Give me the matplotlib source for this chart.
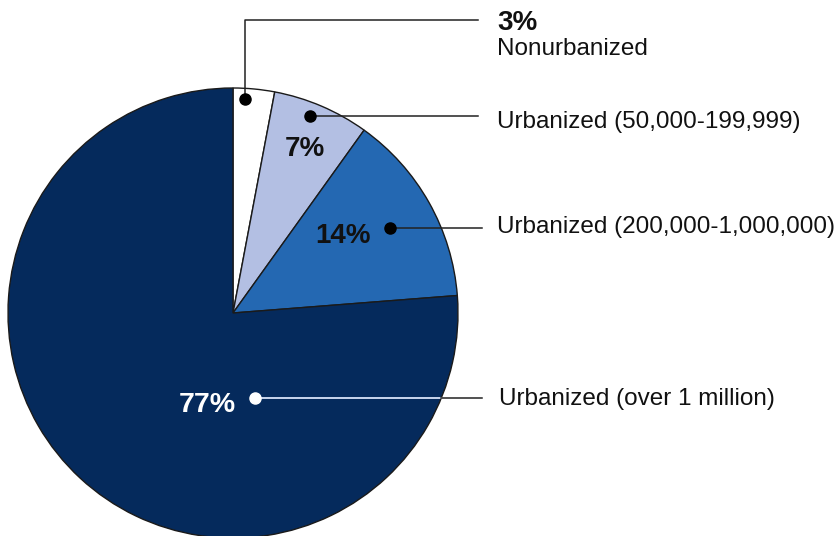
import numpy as np
import matplotlib.pyplot as plt

plt.rcParams['font.family'] = ['Liberation Sans', 'DejaVu Sans']

# share of the total, by area type
categories = ['Nonurbanized', 'Urbanized (50,000-199,999)',
              'Urbanized (200,000-1,000,000)', 'Urbanized (over 1 million)']
shares = [3, 7, 14, 77]
pct_labels = ['3%', '7%', '14%', '77%']
colors = ['#ffffff', '#b3bfe3', '#2468b2', '#052a5c']

# canvas in pixel units, y runs downwards
W, H = 835, 536
cx, cy, R = 233, 313, 225

fig = plt.figure(figsize=(W / 100, H / 100), dpi=100)
ax = fig.add_axes([0, 0, 1, 1])

ax.pie(shares, colors=colors, startangle=-90, counterclock=True,
       center=(cx, cy), radius=R,
       wedgeprops=dict(edgecolor='#1a1a1a', linewidth=1.0))
ax.set_xlim(0, W)
ax.set_ylim(H, 0)
ax.set_aspect('equal')
ax.axis('off')

lc = '#222222'
lw = 1.1
label_x = 497
line_end = 480

# 3% - nonurbanized: elbow leader up and to the right
ax.plot([245, 245, line_end - 2], [99, 20, 20], color=lc, lw=lw, zorder=3)
ax.plot(245, 99, 'o', color='black', ms=8, zorder=4)
ax.text(label_x, 30, pct_labels[0], fontsize=20, fontweight='bold', color='#111111')
ax.text(label_x, 55, categories[0], fontsize=17.5, color='#111111')

# 7%
ax.plot([310, line_end - 2], [116, 116], color=lc, lw=lw, zorder=3)
ax.plot(310, 116, 'o', color='black', ms=8, zorder=4)
ax.text(305, 156, pct_labels[1], fontsize=20, fontweight='bold', ha='center', color='#111111')
ax.text(label_x, 128, categories[1], fontsize=17.5, color='#111111')

# 14%
ax.plot([390, line_end + 2], [228, 228], color=lc, lw=lw, zorder=3)
ax.plot(390, 228, 'o', color='black', ms=8, zorder=4)
ax.text(343, 243, pct_labels[2], fontsize=20, fontweight='bold', ha='center', color='#111111')
ax.text(label_x, 233, categories[2], fontsize=17.5, color='#111111')

# 77%: light line inside the dark slice, dark outside
y77 = 398
edge_x = cx + np.sqrt(R ** 2 - (y77 - cy) ** 2)
ax.plot([255, edge_x], [y77, y77], color='#c9d6ef', lw=lw + 0.3, zorder=3)
ax.plot([edge_x, line_end + 2], [y77, y77], color=lc, lw=lw, zorder=3)
ax.plot(255, y77, 'o', color='white', ms=8, zorder=4)
ax.text(207, 412, pct_labels[3], fontsize=20.5, fontweight='bold', ha='center', color='white')
ax.text(label_x + 2, 405, categories[3], fontsize=17.5, color='#111111')

fig.savefig('out.png', dpi=100)
